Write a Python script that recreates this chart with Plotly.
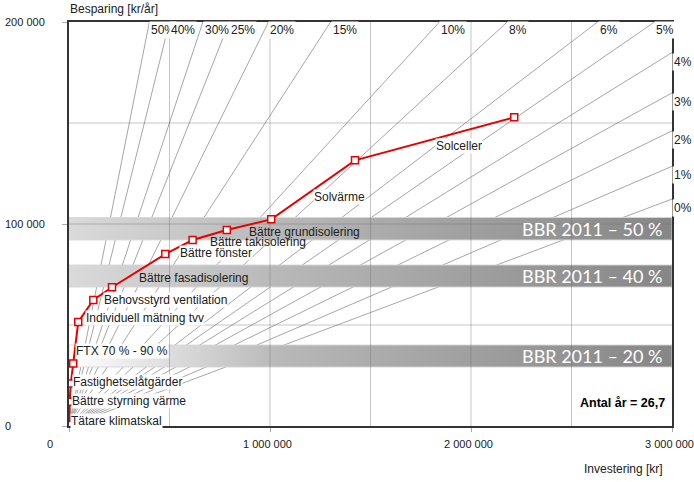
import plotly.graph_objects as go

# ---- data ----
invest = [4000, 3000, 9000, 21000, 46000, 121000, 214000, 479000, 615000,
          785000, 1006000, 1423000, 2215000]
saving = [500, 12000, 21000, 31000, 51500, 62400, 68700, 85100, 92100,
          97000, 102300, 131500, 152800]

measure_labels = ["Tätare klimatskal", "Bättre styrning värme", "Fastighetselåtgärder",
                  "FTX 70 % - 90 %", "Individuell mätning tvv", "Behovsstyrd ventilation",
                  "Bättre fasadisolering", "Bättre fönster", "Bättre takisolering",
                  "Bättre grundisolering", "Solvärme", "Solceller"]
label_x = [5000, 10000, 15000, 30000, 80000, 169000, 343000, 547000, 697000,
           891000, 1214000, 1821000]
label_y = [2600, 12500, 21900, 37300, 53300, 62400, 73100, 85500, 90900,
           95900, 113400, 138600]
label_bg = [True, True, True, True, True, True, False, True, False, False, True, True]

rates = ["0%", "1%", "2%", "3%", "4%", "5%", "6%", "8%", "10%", "15%",
         "20%", "25%", "30%", "40%", "50%"]
line_slope = [0.03745, 0.04286, 0.04871, 0.05497, 0.06162, 0.06866, 0.07606,
              0.09175, 0.10852, 0.15368, 0.20155, 0.25065, 0.30027, 0.40012, 0.50000]

bbr_labels = ["BBR 2011 – 50 %", "BBR 2011 – 40 %", "BBR 2011 – 20 %"]
bbr_low = [92100, 68800, 29200]
bbr_high = [103200, 79700, 40100]
bbr_left_color = ["#dadada", "#dadada", "#ffffff"]

x_ticks = [0, 1000000, 2000000, 3000000]
x_tick_text = ["0", "1 000 000", "2 000 000", "3 000 000"]
y_ticks = [0, 100000, 200000]
y_tick_text = ["0", "100 000", "200 000"]
grid_x = [500000, 1000000, 1500000, 2000000, 2500000]
grid_y = [50000, 100000, 150000]

X_MAX = 3000000
Y_MAX = 200000
antal_ar = "Antal år = 26,7"

FONT = "Liberation Sans, Arial, sans-serif"

fig = go.Figure()
annotations = []

# fan of payback lines
for r, k in zip(rates, line_slope):
    xe = min(X_MAX, Y_MAX / k)
    ye = k * xe
    fig.add_trace(go.Scatter(x=[0, xe], y=[0, ye], mode="lines",
                             line=dict(color="#a6a6a6", width=1),
                             hoverinfo="skip"))

for r, k in reversed(list(zip(rates, line_slope))):
    xe = min(X_MAX, Y_MAX / k)
    ye = k * xe
    if ye >= Y_MAX - 1:
        annotations.append(dict(x=xe, y=Y_MAX, xref="x", yref="y", text=r,
                                showarrow=False, xanchor="left", yanchor="top",
                                yshift=1, bgcolor="white", borderpad=1,
                                font=dict(family=FONT, size=12, color="#202020")))
    else:
        annotations.append(dict(x=xe, y=ye, xref="x", yref="y", text=r,
                                showarrow=False, xanchor="left", yanchor="top",
                                yshift=0, xshift=0, bgcolor="white", borderpad=1,
                                font=dict(family=FONT, size=12, color="#202020")))

# BBR bands
for lo, hi, lc in zip(bbr_low, bbr_high, bbr_left_color):
    fig.add_trace(go.Scatter(x=[0, X_MAX, X_MAX, 0, 0], y=[lo, lo, hi, hi, lo],
                             mode="lines", fill="toself",
                             fillgradient=dict(type="horizontal",
                                               colorscale=[[0, lc], [0.35, "#b8b8b8"], [1, "#868686"]]),
                             line=dict(color="rgba(215,215,215,0.9)", width=1),
                             hoverinfo="skip"))

# grid lines drawn over bands
for gx in grid_x:
    fig.add_trace(go.Scatter(x=[gx, gx], y=[0, Y_MAX], mode="lines",
                             line=dict(color="rgba(110,110,110,0.4)", width=1),
                             hoverinfo="skip"))
for gy in grid_y:
    fig.add_trace(go.Scatter(x=[0, X_MAX], y=[gy, gy], mode="lines",
                             line=dict(color="rgba(110,110,110,0.4)", width=1),
                             hoverinfo="skip"))

# red curve
fig.add_trace(go.Scatter(x=invest, y=saving, mode="lines+markers",
                         line=dict(color="#e60000", width=2),
                         marker=dict(symbol="square", size=7, color="white",
                                     line=dict(color="#e60000", width=1.5)),
                         hoverinfo="skip"))

for t, lx, ly, bg in zip(measure_labels, label_x, label_y, label_bg):
    annotations.append(dict(x=lx, y=ly, xref="x", yref="y", text=t, showarrow=False,
                            xanchor="left", yanchor="middle",
                            bgcolor="white" if bg else "rgba(0,0,0,0)", borderpad=0,
                            font=dict(family=FONT, size=12, color="#202020")))

for t, lo, hi in zip(bbr_labels, bbr_low, bbr_high):
    annotations.append(dict(x=X_MAX, y=(lo + hi) / 2, xref="x", yref="y", text=t,
                            showarrow=False, xanchor="right", yanchor="middle",
                            xshift=-7, yshift=0,
                            font=dict(family="Lato, Open Sans, sans-serif", size=18,
                                      color="#ffffff")))

# tick labels
for v, t in zip(x_ticks, x_tick_text):
    annotations.append(dict(x=v, y=0, xref="x", yref="paper", text=t, showarrow=False,
                            xanchor="center", yanchor="middle",
                            xshift=(-19 if v == 0 else -3), yshift=-18,
                            font=dict(family=FONT, size=11, color="#202020")))
for v, t in zip(y_ticks, y_tick_text):
    annotations.append(dict(x=-0.109, y=v, xref="paper", yref="y", text=t, showarrow=False,
                            xanchor="left", yanchor="middle",
                            font=dict(family=FONT, size=11, color="#202020")))

annotations.append(dict(x=-0.002, y=1, xref="paper", yref="paper",
                        text="Besparing [kr/år]", showarrow=False,
                        xanchor="left", yanchor="bottom", yshift=4,
                        font=dict(family=FONT, size=12, color="#202020")))
annotations.append(dict(x=0.851, y=0, xref="paper", yref="paper",
                        text="Investering [kr]", showarrow=False,
                        xanchor="left", yanchor="top", yshift=-34,
                        font=dict(family=FONT, size=12, color="#202020")))
annotations.append(dict(x=X_MAX, y=11400, xref="x", yref="y",
                        text="<b>" + antal_ar + "</b>", showarrow=False,
                        xanchor="right", yanchor="middle", xshift=-5,
                        font=dict(family=FONT, size=12.5, color="#000000")))

fig.update_layout(
    width=694, height=482, autosize=False,
    margin=dict(l=69, r=22, t=22, b=56),
    paper_bgcolor="white", plot_bgcolor="white",
    showlegend=False,
    annotations=annotations,
    xaxis=dict(range=[0, X_MAX], showgrid=False, zeroline=False,
               showline=True, mirror=True, linecolor="#333333", linewidth=2,
               ticks="outside", tickvals=x_ticks, ticklen=4, tickcolor="#aaaaaa",
               showticklabels=False, fixedrange=True),
    yaxis=dict(range=[0, Y_MAX], showgrid=False, zeroline=False,
               showline=True, mirror=True, linecolor="#333333", linewidth=2,
               ticks="outside", tickvals=y_ticks, ticklen=5, tickcolor="#aaaaaa",
               showticklabels=False, fixedrange=True),
)

fig.write_html("out.html")
